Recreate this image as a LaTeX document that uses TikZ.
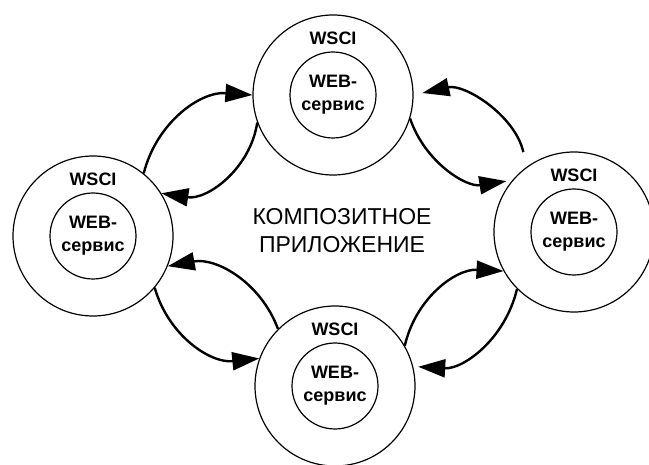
\documentclass[tikz,border=0pt]{standalone}
\usepackage{fontspec}
\setmainfont{Liberation Sans}
\usetikzlibrary{arrows.meta}

\begin{document}
\begin{tikzpicture}[x=1pt,y=1pt,
    outer/.style={draw,circle,line width=1.2pt,minimum size=160pt,inner sep=0pt},
    svc/.style={draw,circle,line width=1.2pt,minimum size=86pt,inner sep=0pt,
        align=center,font=\bfseries\fontsize{18}{23}\selectfont},
    wsci/.style={font=\bfseries\fontsize{18}{23}\selectfont,inner sep=0pt},
    link/.style={line width=2.4pt,-{Triangle[length=27pt,width=18pt]}}
]
    \useasboundingbox (0,0) rectangle (649,-465);
    % four services, each wrapped by its WSCI ring
    \foreach \n/\x/\y in {T/333/-95, L/93/-236, R/574/-232, B/335/-386} {
        \node[outer] (\n) at (\x,\y) {};
        \node[svc] (\n-web) at (\n) {WEB-\\сервис};
        \node[wsci] (\n-wsci) at ([yshift=57pt]\n.center) {WSCI};
    }
    \node[align=center,font=\fontsize{23}{28}\selectfont] (app) at (342,-231)
        {КОМПОЗИТНОЕ\\ПРИЛОЖЕНИЕ};

    % message exchange between the rings
    \draw[link] (L.51) to[bend left=40] (T.180);
    \draw[link] (T.200) to[bend left=45] (L.32);
    \draw[link,shorten <=15pt,shorten >=9pt] (R.126) to[bend right=45] (T.0);
    \draw[link,shorten >=6pt] (T.-17) to[bend right=40] (R.140);
    \draw[link] (B.135) to[bend right=40] (L.-22);
    \draw[link] (L.-40) to[bend right=40] (B.160);
    \draw[link] (B.30) to[bend left=40] (R.209);
    \draw[link,shorten >=5pt] (R.225) to[bend left=40] (B.14);
\end{tikzpicture}
\end{document}
